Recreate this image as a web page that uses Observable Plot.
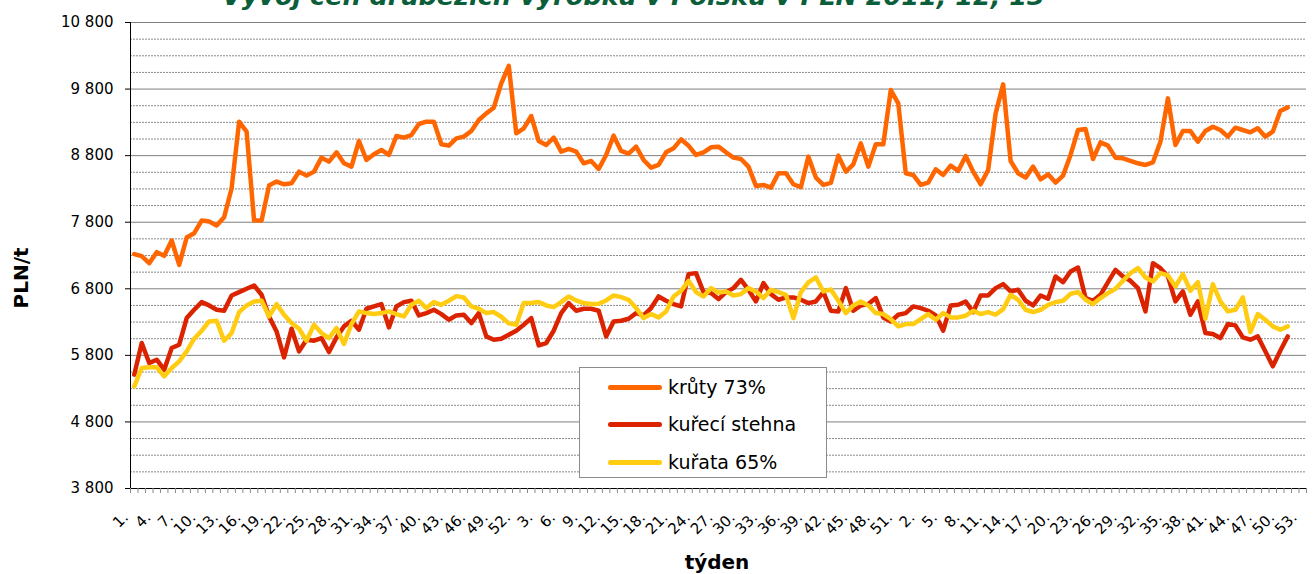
<!DOCTYPE html>
<html>
<head>
<meta charset="utf-8">
<script src="https://cdn.jsdelivr.net/npm/d3@7"></script>
<script src="https://cdn.jsdelivr.net/npm/@observablehq/plot@0.6"></script>
<style>
html, body { margin: 0; padding: 0; background: #fff; overflow: hidden; }
#wrap { position: relative; width: 1314px; height: 574px; font-family: "DejaVu Sans", Verdana, sans-serif; overflow: hidden; }
#chart { position: absolute; left: 0; top: 0; }
#title { position: absolute; left: 222px; top: -16px; font-size: 25.5px; line-height: 25px; font-weight: bold; font-style: italic; color: #0b5e3a; white-space: nowrap; }
#ylab { position: absolute; left: 21px; top: 278px; transform: translate(-50%, -50%) rotate(-90deg); font-size: 20px; font-weight: bold; white-space: nowrap; }
#xlab { position: absolute; left: 717px; top: 550px; transform: translateX(-50%); font-size: 20px; font-weight: bold; white-space: nowrap; line-height: 24px; }
#legend { position: absolute; left: 579px; top: 367px; width: 246px; height: 109px; border: 1px solid #8c8c8c; background: #fff; }
.item { position: absolute; left: 0; height: 24px; display: flex; align-items: center; font-size: 19px; white-space: nowrap; }
.item span.sw { display: inline-block; width: 54px; height: 5px; border-radius: 3px; margin-left: 28px; margin-right: 6px; }
</style>
</head>
<body>
<div id="wrap">
  <div id="chart"></div>
  <div id="title">Vývoj cen drůbežích výrobků v Polsku v PLN 2011, 12, 13</div>
  <div id="ylab">PLN/t</div>
  <div id="xlab">týden</div>
  <div id="legend"></div>
</div>
<script>
// ---- data ----
const weeks = [
  1,2,3,4,5,6,7,8,9,10,11,12,13,14,15,16,17,18,19,20,21,22,23,24,25,26,27,28,29,30,31,32,33,34,35,36,37,38,39,40,41,42,43,44,45,46,47,48,49,50,51,52,
  1,2,3,4,5,6,7,8,9,10,11,12,13,14,15,16,17,18,19,20,21,22,23,24,25,26,27,28,29,30,31,32,33,34,35,36,37,38,39,40,41,42,43,44,45,46,47,48,49,50,51,52,
  1,2,3,4,5,6,7,8,9,10,11,12,13,14,15,16,17,18,19,20,21,22,23,24,25,26,27,28,29,30,31,32,33,34,35,36,37,38,39,40,41,42,43,44,45,46,47,48,49,50,51,52,53
];

const seriesNames = ["krůty 73%", "kuřecí stehna", "kuřata 65%"];
const seriesColors = ["#ff6600", "#dc2300", "#ffcc11"];

const kruty = [
  7320,7290,7185,7350,7295,7525,7160,7570,7635,7825,7810,7750,7875,8310,9310,9160,7825,7825,8350,8410,
  8370,8385,8560,8500,8560,8770,8710,8850,8685,8635,9020,8735,8820,8885,8810,9095,9070,9110,9275,9310,
  9310,8970,8950,9060,9085,9170,9335,9435,9520,9885,10150,9135,9210,9395,9020,8960,9070,8860,8900,8860,
  8685,8720,8600,8810,9100,8870,8830,8935,8735,8620,8660,8850,8910,9045,8950,8810,8850,8925,8935,8850,
  8770,8750,8635,8345,8360,8320,8535,8535,8370,8325,8785,8470,8360,8390,8800,8560,8670,8985,8635,8970,
  8970,9785,9585,8535,8510,8360,8395,8595,8510,8650,8570,8795,8560,8370,8585,9435,9870,8720,8535,8470,
  8635,8445,8520,8395,8500,8810,9185,9200,8750,9000,8950,8770,8760,8720,8685,8660,8700,9010,9660,8960,
  9170,9170,9010,9170,9235,9185,9085,9220,9185,9150,9210,9085,9160,9470,9525
];

const stehna = [
  5510,5985,5685,5735,5585,5910,5960,6360,6485,6600,6550,6485,6470,6700,6750,6800,6850,6710,6385,6160,
  5770,6200,5860,6035,6020,6060,5850,6070,6235,6320,6185,6500,6535,6570,6220,6535,6600,6620,6400,6435,
  6485,6420,6335,6400,6410,6285,6435,6085,6035,6050,6110,6170,6260,6360,5950,5985,6170,6435,6585,6470,
  6500,6500,6470,6085,6310,6320,6350,6435,6400,6510,6685,6620,6570,6535,7020,7035,6750,6735,6645,6750,
  6810,6935,6785,6610,6885,6720,6635,6670,6670,6635,6585,6610,6750,6470,6460,6810,6470,6550,6570,6660,
  6370,6310,6410,6435,6535,6510,6470,6400,6170,6550,6560,6610,6450,6700,6700,6810,6870,6760,6785,6620,
  6550,6700,6650,6985,6900,7060,7120,6660,6620,6710,6900,7085,6985,6920,6810,6460,7185,7110,6985,6610,
  6760,6410,6610,6135,6120,6060,6270,6250,6070,6035,6085,5860,5635,5870,6085
];

const kurata = [
  5335,5610,5620,5620,5485,5610,5710,5860,6050,6170,6310,6320,6020,6135,6450,6550,6610,6620,6385,6570,
  6410,6285,6200,6020,6260,6135,6060,6210,5970,6270,6460,6435,6420,6435,6460,6420,6385,6560,6620,6510,
  6600,6560,6620,6690,6670,6535,6500,6435,6450,6380,6280,6260,6585,6585,6600,6550,6525,6600,6685,6625,
  6585,6570,6575,6625,6700,6675,6635,6510,6360,6420,6370,6460,6685,6770,6920,6750,6685,6810,6745,6760,
  6700,6720,6810,6760,6660,6785,6750,6710,6360,6750,6895,6970,6760,6790,6620,6435,6550,6610,6550,6435,
  6420,6345,6235,6270,6270,6345,6420,6335,6435,6370,6370,6395,6470,6420,6450,6410,6495,6710,6635,6485,
  6450,6485,6560,6600,6620,6725,6750,6635,6570,6660,6735,6800,6920,7035,7110,6970,6910,7035,7000,6835,
  7020,6770,6900,6350,6870,6610,6460,6485,6670,6150,6420,6335,6235,6185,6235
];

const yTicks = [3800, 4800, 5800, 6800, 7800, 8800, 9800, 10800];
const yMinor = [4050,4300,4550,5050,5300,5550,6050,6300,6550,7050,7300,7550,8050,8300,8550,9050,9300,9550,10050,10300,10550];

// ---- build table ----
const seriesValues = [kruty, stehna, kurata];
const rows = [];
seriesValues.forEach((vals, s) => vals.forEach((v, i) => rows.push({i, v, s: seriesNames[s]})));

const nCat = weeks.length;
const boundaries = d3.range(nCat + 1).map(k => k - 0.5);
const labelIdx = d3.range(0, nCat, 3);
const fmt = d => d3.format(",")(d).replace(/,/g, " ");

const chart = Plot.plot({
  width: 1314,
  height: 574,
  marginLeft: 130,
  marginRight: 8,
  marginTop: 22,
  marginBottom: 86,
  style: { fontFamily: "DejaVu Sans, Verdana, sans-serif", fontSize: "15px", color: "#000", background: "#fff" },
  x: { type: "linear", domain: [-0.5, nCat - 0.5] },
  y: { domain: [3800, 10800] },
  color: { domain: seriesNames, range: seriesColors },
  marks: [
    Plot.ruleY(yMinor, { stroke: "#8a8a8a", strokeWidth: 1, strokeDasharray: "2,1" }),
    Plot.ruleY(yTicks, { stroke: "#7f7f7f", strokeWidth: 1 }),
    Plot.lineY(rows, { x: "i", y: "v", z: "s", stroke: "s", strokeWidth: 4.5, strokeLinejoin: "round", strokeLinecap: "round" }),
    Plot.ruleX([-0.5], { stroke: "#000", strokeWidth: 1 }),
    Plot.ruleY([3800], { stroke: "#000", strokeWidth: 1 }),
    Plot.axisY({ ticks: yTicks, tickSize: 5, tickPadding: 12, tickFormat: fmt, label: null, fontSize: 15 }),
    Plot.axisX({ ticks: boundaries, tickSize: 5, fill: "none", stroke: "#888", label: null }),
    Plot.text(labelIdx, {
      x: d => d, frameAnchor: "bottom", text: d => weeks[d] + ".",
      rotate: -45, textAnchor: "end", dx: -5, dy: 30, fontSize: 15
    })
  ]
});
document.getElementById("chart").appendChild(chart);

// legend
const legend = document.getElementById("legend");
const rowY = [7, 44, 82];
seriesNames.forEach((name, k) => {
  const it = document.createElement("div");
  it.className = "item";
  it.style.top = rowY[k] + "px";
  const sw = document.createElement("span");
  sw.className = "sw";
  sw.style.background = seriesColors[k];
  it.appendChild(sw);
  it.appendChild(document.createTextNode(name));
  legend.appendChild(it);
});
</script>
</body>
</html>
